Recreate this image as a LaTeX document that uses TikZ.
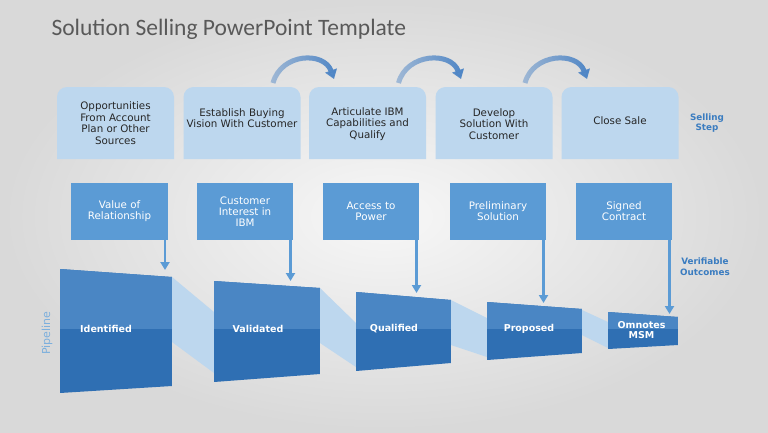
\documentclass[tikz,border=0pt]{standalone}
\usepackage{fontspec}
\setmainfont{DejaVu Sans}
\newfontfamily\titlefont{Carlito}
\usetikzlibrary{arrows.meta,fadings}

\definecolor{stepblue}{HTML}{BDD7EE}
\definecolor{outblue}{HTML}{5B9BD5}
\definecolor{pipetop}{HTML}{4A86C4}
\definecolor{pipebot}{HTML}{2F6FB3}
\definecolor{labelblue}{HTML}{3A7CC0}
\definecolor{titlegray}{HTML}{595959}
\definecolor{arcblue}{HTML}{4F86C6}

\tikzfading[name=arcfade, left color=transparent!55, right color=transparent!0]

\pgfdeclarelayer{bg}
\pgfsetlayers{bg,main}

\tikzset{
  stepbox/.style={minimum width=117pt, minimum height=72pt, text width=112pt,
    align=flush center, text=black!85, font=\fontsize{10.3}{11.5}\selectfont},
  outbox/.style={fill=outblue, minimum width=95pt, minimum height=57pt,
    text width=90pt, align=flush center, text=white, font=\fontsize{10.3}{11}\selectfont},
  pipelabel/.style={text=white, align=center, font=\bfseries\fontsize{9.5}{10}\selectfont},
  sidelabel/.style={text=labelblue, align=center, font=\bfseries\fontsize{8.8}{10.5}\selectfont},
  outarrow/.style={draw=outblue, line width=2.2pt, -{Triangle[width=9pt,length=8pt]}},
  steparrow/.style={draw=arcblue, line width=5pt, -{Triangle[width=12pt,length=9pt]},
    path fading=arcfade},
  ribbon/.style={fill=stepblue}
}

\begin{document}
\begin{tikzpicture}[x=1pt,y=-1pt]

      \begin{pgfonlayer}{bg}
        \shade[inner color=black!3, outer color=black!15] (0,0) rectangle (768,432);
      \end{pgfonlayer}
      \useasboundingbox (0,0) rectangle (768,432);

      \node[anchor=base west, text=titlegray, font=\titlefont\fontsize{23.5}{26}\selectfont]
        (title) at (48,35) {Solution Selling PowerPoint Template};

      \begin{scope}[every node/.style={stepbox}]
        \node (s1) at (115.5,123) {Opportunities\\From Account\\Plan or Other\\Sources};
        \node (s2) at (242,118)   {Establish Buying\\Vision With Customer};
        \node (s3) at (367.5,124) {Articulate IBM\\Capabilities and\\Qualify};
        \node (s4) at (494,124)   {Develop\\Solution With\\Customer};
        \node (s5) at (620,121)   {Close Sale};
      \end{scope}

      \begin{pgfonlayer}{bg}
        \foreach \i/\cx in {1/115.5,2/242,3/367.5,4/494,5/620}
          \fill[stepblue] (\cx-58.5,159) [rounded corners=10pt] -- (\cx-58.5,87)
            -- (\cx+58.5,87) [sharp corners] -- (\cx+58.5,159) -- cycle;
      \end{pgfonlayer}

      \begin{scope}[every node/.style={outbox}]
        \node (v1) at (119.5,211.5) {Value of\\Relationship};
        \node (v2) at (245,211.5)   {Customer\\Interest in\\IBM};
        \node (v3) at (371,211.5)   {Access to\\Power};
        \node (v4) at (498,211.5)   {Preliminary\\Solution};
        \node (v5) at (624,211.5)   {Signed\\Contract};
      \end{scope}

      \coordinate (s2r) at (273,83);
      \coordinate (s3l) at (334,79);
      \coordinate (s3r) at (398.5,83);
      \coordinate (s4l) at (461,79);
      \coordinate (s4r) at (525,83);
      \coordinate (s5l) at (587,79);

      \draw[steparrow] (s2r) .. controls +(8,-30) and +(-10,-28) .. (s3l);
      \draw[steparrow] (s3r) .. controls +(8,-30) and +(-10,-28) .. (s4l);
      \draw[steparrow] (s4r) .. controls +(8,-30) and +(-10,-28) .. (s5l);

      \fill[ribbon] (172,277) -- (214,312) -- (214,373) -- (172,342) -- cycle;
      \fill[ribbon] (320,288) -- (356,323) -- (356,367) -- (320,343) -- cycle;
      \fill[ribbon] (451,300) -- (487,318) -- (487,357) -- (451,345) -- cycle;
      \fill[ribbon] (582,310) -- (608,322) -- (608,348) -- (582,335) -- cycle;

      \foreach \xa/\ya/\yb/\xb/\yc/\yd in {60/269/393/172/277/386, 214/281/382/320/288/374,
          356/292/371/451/300/363, 487/302/360/582/309/353, 608/312/349/678/317/345}{
        \begin{scope}
          \clip (\xa,\ya) -- (\xb,\yc) -- (\xb,\yd) -- (\xa,\yb) -- cycle;
          \fill[pipebot] (\xa,\ya) rectangle (\xb,\yb);
          \fill[pipetop] (\xa,250) rectangle (\xb,329);
        \end{scope}
      }

      \begin{scope}[every node/.style={pipelabel}]
        \node (p1) at (106,329) {Identified};
        \node (p2) at (258,329) {Validated};
        \node (p3) at (394,329) {Qualified};
        \node (p4) at (529,329) {Proposed};
        \node (p5) at (641.5,330) {Omnotes\\MSM};
      \end{scope}

      \coordinate (a1) at (165,270);
      \coordinate (a2) at (290.5,281);
      \coordinate (a3) at (416.5,293);
      \coordinate (a4) at (543.5,303);
      \coordinate (a5) at (669.5,314);

      \foreach \i in {1,...,5}
        \draw[outarrow] (v\i.south east -| a\i) -- (a\i);

      \node[sidelabel] (sell) at (707,123) {Selling\\Step};
      \node[sidelabel] (verif) at (705,266.5) {Verifiable\\Outcomes};
      \node[rotate=90, text=outblue!80, font=\fontsize{11}{12}\selectfont] (pipe) at (47,333) {Pipeline};

    \end{tikzpicture}
\end{document}
